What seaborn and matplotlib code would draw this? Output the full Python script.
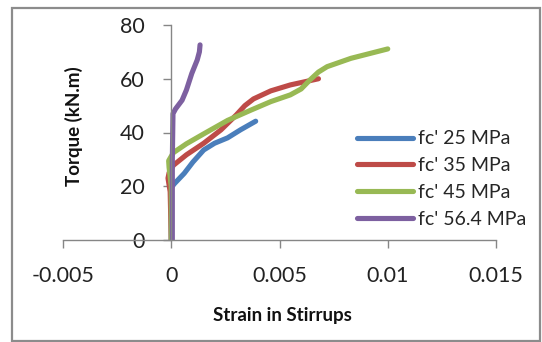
import matplotlib
matplotlib.use("Agg")
import matplotlib.pyplot as plt
from matplotlib.patches import Rectangle
import pandas as pd
import seaborn as sns

# Strain in stirrups vs. applied torque for four concrete strengths
labels = ["fc' 25 MPa", "fc' 35 MPa", "fc' 45 MPa", "fc' 56.4 MPa"]
colors = ["#4A7EBB", "#BE4B48", "#98B954", "#7D60A0"]

strain_25 = [0.0, 0.0, 0.00015, 0.0006, 0.001, 0.0015, 0.002, 0.0026, 0.0032, 0.0039]
torque_25 = [0.0, 19.5, 21.0, 24.8, 29.0, 33.5, 36.0, 38.0, 41.0, 44.2]

strain_35 = [0.0, -0.00005, -0.00015, -0.0001, 0.0001, 0.0007, 0.0015, 0.0023,
             0.003, 0.0034, 0.0038, 0.0046, 0.0055, 0.0068]
torque_35 = [0.0, 18.0, 23.0, 25.0, 27.8, 31.7, 36.0, 41.0,
             46.5, 50.0, 52.5, 55.5, 57.7, 60.0]

strain_45 = [0.0, 0.0, -0.0001, -0.00012, 0.0001, 0.0007, 0.0015, 0.0026, 0.0037,
             0.0046, 0.0055, 0.006, 0.0064, 0.0068, 0.0072, 0.0083, 0.01]
torque_45 = [0.0, 20.0, 27.0, 29.5, 32.5, 35.8, 39.5, 44.5, 48.4,
             51.5, 54.0, 56.2, 59.5, 62.5, 64.5, 67.6, 71.1]

strain_56 = [0.00005, 0.00005, 0.00008, 0.0002, 0.0005, 0.0007, 0.00095, 0.0012, 0.0013, 0.00133]
torque_56 = [0.0, 30.0, 47.0, 48.8, 52.0, 55.8, 62.0, 67.0, 70.0, 72.6]

x_ticks = [-0.005, 0, 0.005, 0.01, 0.015]
x_tick_labels = ["-0.005", "0", "0.005", "0.01", "0.015"]
y_ticks = [0, 20, 40, 60, 80]

frames = []
for lab, xs, ys in zip(labels,
                       [strain_25, strain_35, strain_45, strain_56],
                       [torque_25, torque_35, torque_45, torque_56]):
    frames.append(pd.DataFrame({"strain": xs, "torque": ys, "series": lab}))
df = pd.concat(frames, ignore_index=True)

sns.set_theme(style="white")
plt.rcParams["font.family"] = ["Lato", "DejaVu Sans"]

fig = plt.figure(figsize=(5.42, 3.42), dpi=100)
ax = fig.add_axes([63 / 542, 1 - 240 / 342, (496 - 63) / 542, (240 - 25) / 342])

sns.lineplot(data=df, x="strain", y="torque", hue="series", hue_order=labels,
             palette=colors, sort=False, estimator=None, units="series",
             linewidth=3.7, ax=ax, legend=False)
for line in ax.get_lines():
    line.set_solid_capstyle("round")
    line.set_solid_joinstyle("round")

ax.set_xlim(-0.005, 0.015)
ax.set_ylim(0, 80)
ax.set_xticks(x_ticks)
ax.set_xticklabels(x_tick_labels)
ax.set_yticks(y_ticks)

for side in ["top", "right"]:
    ax.spines[side].set_visible(False)
ax.spines["left"].set_position(("data", 0))
ax.spines["bottom"].set_position(("data", 0))
for side in ["left", "bottom"]:
    ax.spines[side].set_color("#868686")
    ax.spines[side].set_linewidth(1.0)

ax.tick_params(axis="both", which="major", direction="out", length=6,
               width=1.0, color="#868686", labelsize=15.5, labelcolor="#222222",
               left=True, bottom=True)
ax.tick_params(axis="y", pad=13)
ax.tick_params(axis="x", pad=13)

ax.set_xlabel("")
ax.set_ylabel("")
fig.text(282 / 542, 1 - 316 / 342, "Strain in Stirrups", ha="center", va="center",
         fontsize=13.5, fontweight="bold", color="#111111")
fig.text(74 / 542, 1 - 126 / 342, "Torque (kN.m)", ha="center", va="center",
         rotation=90, fontsize=13.5, fontweight="bold", color="#111111")

handles = ax.get_lines()[:4]
fig.legend(handles, labels, loc="center left",
           bbox_to_anchor=(357 / 542, 1 - 179 / 342), frameon=False,
           fontsize=14, handlelength=2.9, handletextpad=0.25,
           labelspacing=0.5, borderpad=0, borderaxespad=0)

fig.add_artist(Rectangle((12 / 542, 1 - 341 / 342), (540 - 12) / 542, (341 - 8) / 342,
                         transform=fig.transFigure, fill=False,
                         edgecolor="#8c8c8c", linewidth=1.6))

fig.savefig("out.png", dpi=100)
